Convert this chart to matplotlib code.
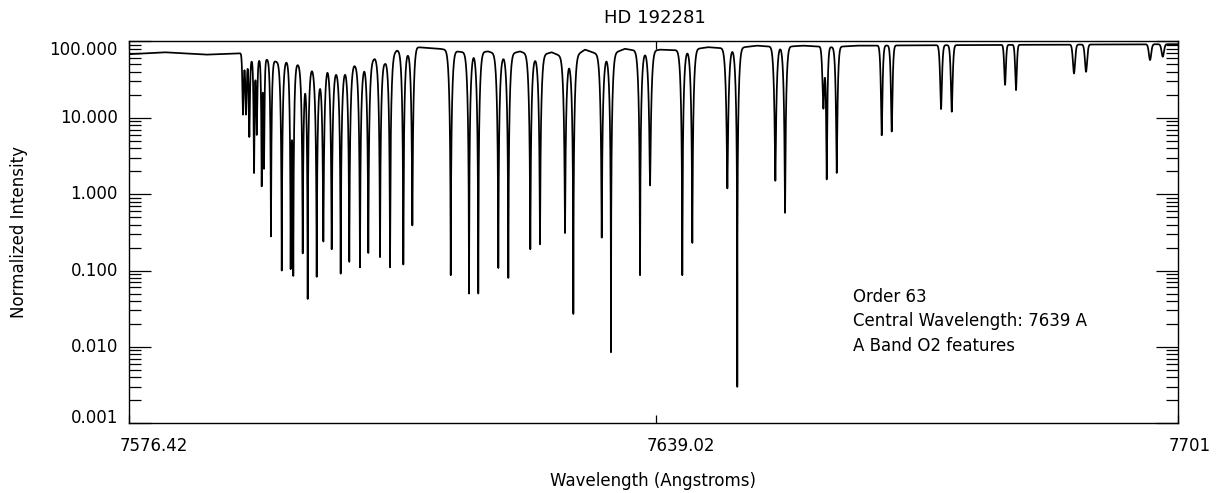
import numpy as np
import matplotlib
matplotlib.use("Agg")
import matplotlib.pyplot as plt
from matplotlib.ticker import LogLocator, NullFormatter, NullLocator

# axis range and ticks
wl_min, wl_max = 7576.42, 7701.0
x_ticks = [7576.42, 7639.02, 7701.0]
x_tick_labels = ["7576.42", "7639.02", "7701"]
y_ticks = [0.001, 0.01, 0.1, 1.0, 10.0, 100.0]
y_tick_labels = ["0.001", "0.010", "0.100", "1.000", "10.000", "100.000"]

# upper envelope of the spectrum (read from the peaks)
cont_wave = [7576.42, 7580.70, 7585.45, 7589.80, 7590.20, 7591.15, 7592.81,
             7594.00, 7595.07, 7596.49, 7598.15, 7599.10, 7599.94, 7601.12,
             7602.07, 7603.14, 7604.21, 7605.64, 7606.82, 7608.25, 7609.55,
             7610.62, 7613.36, 7615.34, 7617.12, 7619.06, 7620.80, 7622.86,
             7624.64, 7626.62, 7628.80, 7630.58, 7632.95, 7635.33, 7637.70,
             7639.48, 7642.66, 7645.19, 7648.00, 7650.97, 7653.74, 7656.47,
             7659.88, 7662.85, 7680.00, 7701.00]
cont_level = [68, 72, 67, 70, 58, 56, 58,
              54, 55, 50, 44, 37, 46, 40,
              42, 49, 46, 60, 53, 76, 72,
              84, 80, 74, 70, 74, 64, 74,
              62, 72, 56, 78, 62, 80, 72,
              78, 76, 84, 80, 88, 84, 88,
              84, 88, 90, 92]

# absorption lines: centre (A), minimum intensity, width (A)
line_wave = [7589.96, 7590.32, 7590.71, 7591.27, 7591.59, 7592.18, 7592.45,
             7593.28, 7594.56, 7595.62, 7595.93, 7597.05, 7597.64, 7598.71,
             7599.50, 7600.49, 7601.56, 7602.58, 7603.85, 7604.84, 7606.23,
             7607.42, 7609.00, 7610.07, 7614.63, 7616.80, 7617.90, 7620.28,
             7621.47, 7624.08, 7625.23, 7628.20, 7629.19, 7632.56, 7633.66,
             7637.11, 7638.30, 7642.13, 7643.32, 7647.48, 7648.66, 7653.18,
             7654.33, 7658.88, 7659.28, 7660.47, 7665.81, 7667.00, 7672.86,
             7674.13, 7680.46, 7681.76, 7688.65, 7690.08, 7697.68, 7699.19]
line_min = [11, 11, 5.6, 1.9, 6.0, 1.3, 2.2,
            0.28, 0.10, 0.135, 0.11, 0.17, 0.043, 0.083,
            0.24, 0.19, 0.091, 0.13, 0.11, 0.17, 0.15,
            0.11, 0.12, 0.39, 0.087, 0.05, 0.05, 0.108,
            0.08, 0.19, 0.22, 0.31, 0.027, 0.27, 0.0085,
            0.087, 1.3, 0.087, 0.23, 1.19, 0.003, 1.5,
            0.57, 13.5, 1.6, 1.9, 5.9, 6.6, 13,
            12, 27, 23, 38, 40, 57, 63]
line_sigma = [0.10, 0.10, 0.10, 0.10, 0.10, 0.10, 0.10,
              0.15, 0.20, 0.18, 0.18, 0.20, 0.20, 0.22,
              0.22, 0.22, 0.22, 0.22, 0.22, 0.22, 0.22,
              0.22, 0.22, 0.22, 0.24, 0.24, 0.24, 0.24,
              0.24, 0.24, 0.24, 0.24, 0.24, 0.24, 0.24,
              0.24, 0.24, 0.24, 0.24, 0.24, 0.24, 0.22,
              0.22, 0.15, 0.15, 0.18, 0.15, 0.15, 0.15,
              0.15, 0.12, 0.12, 0.15, 0.15, 0.15, 0.15]

# build the spectrum from the line list
wave = np.union1d(np.arange(wl_min, wl_max, 0.01), line_wave)
flux = np.interp(wave, cont_wave, cont_level)
for w0, fmin, sig in zip(line_wave, line_min, line_sigma):
    depth = 1 - fmin / np.interp(w0, cont_wave, cont_level)
    flux = flux * (1 - depth * np.exp(-0.5 * ((wave - w0) / sig) ** 2))

fig = plt.figure(figsize=(12.17, 4.93), dpi=100)
ax = fig.add_axes([129 / 1217, 1 - 423.3 / 493, (1178 - 129) / 1217, (423.3 - 41.4) / 493])

ax.plot(wave, flux, color="black", lw=1.25)

ax.set_yscale("log")
ax.set_xlim(wl_min, wl_max)
ax.set_ylim(0.001, 100)

ax.set_xticks(x_ticks)
ax.xaxis.set_minor_locator(NullLocator())
ax.set_yticks(y_ticks)
ax.yaxis.set_minor_locator(LogLocator(base=10, subs=np.arange(2, 10)))
ax.yaxis.set_minor_formatter(NullFormatter())
ax.tick_params(axis="x", which="major", direction="in", length=5.8, width=0.9,
               top=True, bottom=True, labelbottom=False)
ax.tick_params(axis="y", which="major", direction="in", length=15.8, width=0.9,
               left=True, right=True, labelleft=False)
ax.tick_params(axis="y", which="minor", direction="in", length=8.6, width=0.9,
               left=True, right=True)
for sp in ax.spines.values():
    sp.set_linewidth(1.0)

# tick labels placed like the IDL original
for v, lab in zip(x_ticks, x_tick_labels):
    ax.annotate(lab, xy=(v, 0), xycoords=("data", "axes fraction"),
                xytext=(-6.5, -10), textcoords="offset points",
                ha="left", va="top", fontsize=12)
for i, (v, lab) in enumerate(zip(y_ticks, y_tick_labels)):
    dy = 0
    if i == 0:
        dy = 3.6
    elif i == len(y_ticks) - 1:
        dy = -6.2
    ax.annotate(lab, xy=(0, v), xycoords=("axes fraction", "data"),
                xytext=(-8, dy), textcoords="offset points",
                ha="right", va="center", fontsize=12)

fig.text(655 / 1217, 1 - 18 / 493, "HD 192281", ha="center", va="center", fontsize=13)
fig.text(653 / 1217, 1 - 481 / 493, "Wavelength (Angstroms)", ha="center", va="center", fontsize=12)
fig.text(19 / 1217, 1 - 232 / 493, "Normalized Intensity", ha="center", va="center",
         rotation=90, fontsize=12)

notes = ["Order 63", "Central Wavelength: 7639 A", "A Band O2 features"]
for k, s in enumerate(notes):
    fig.text(853 / 1217, 1 - (302 + 24.5 * k) / 493, s, ha="left", va="baseline", fontsize=12)

fig.savefig("out.png", dpi=100)
